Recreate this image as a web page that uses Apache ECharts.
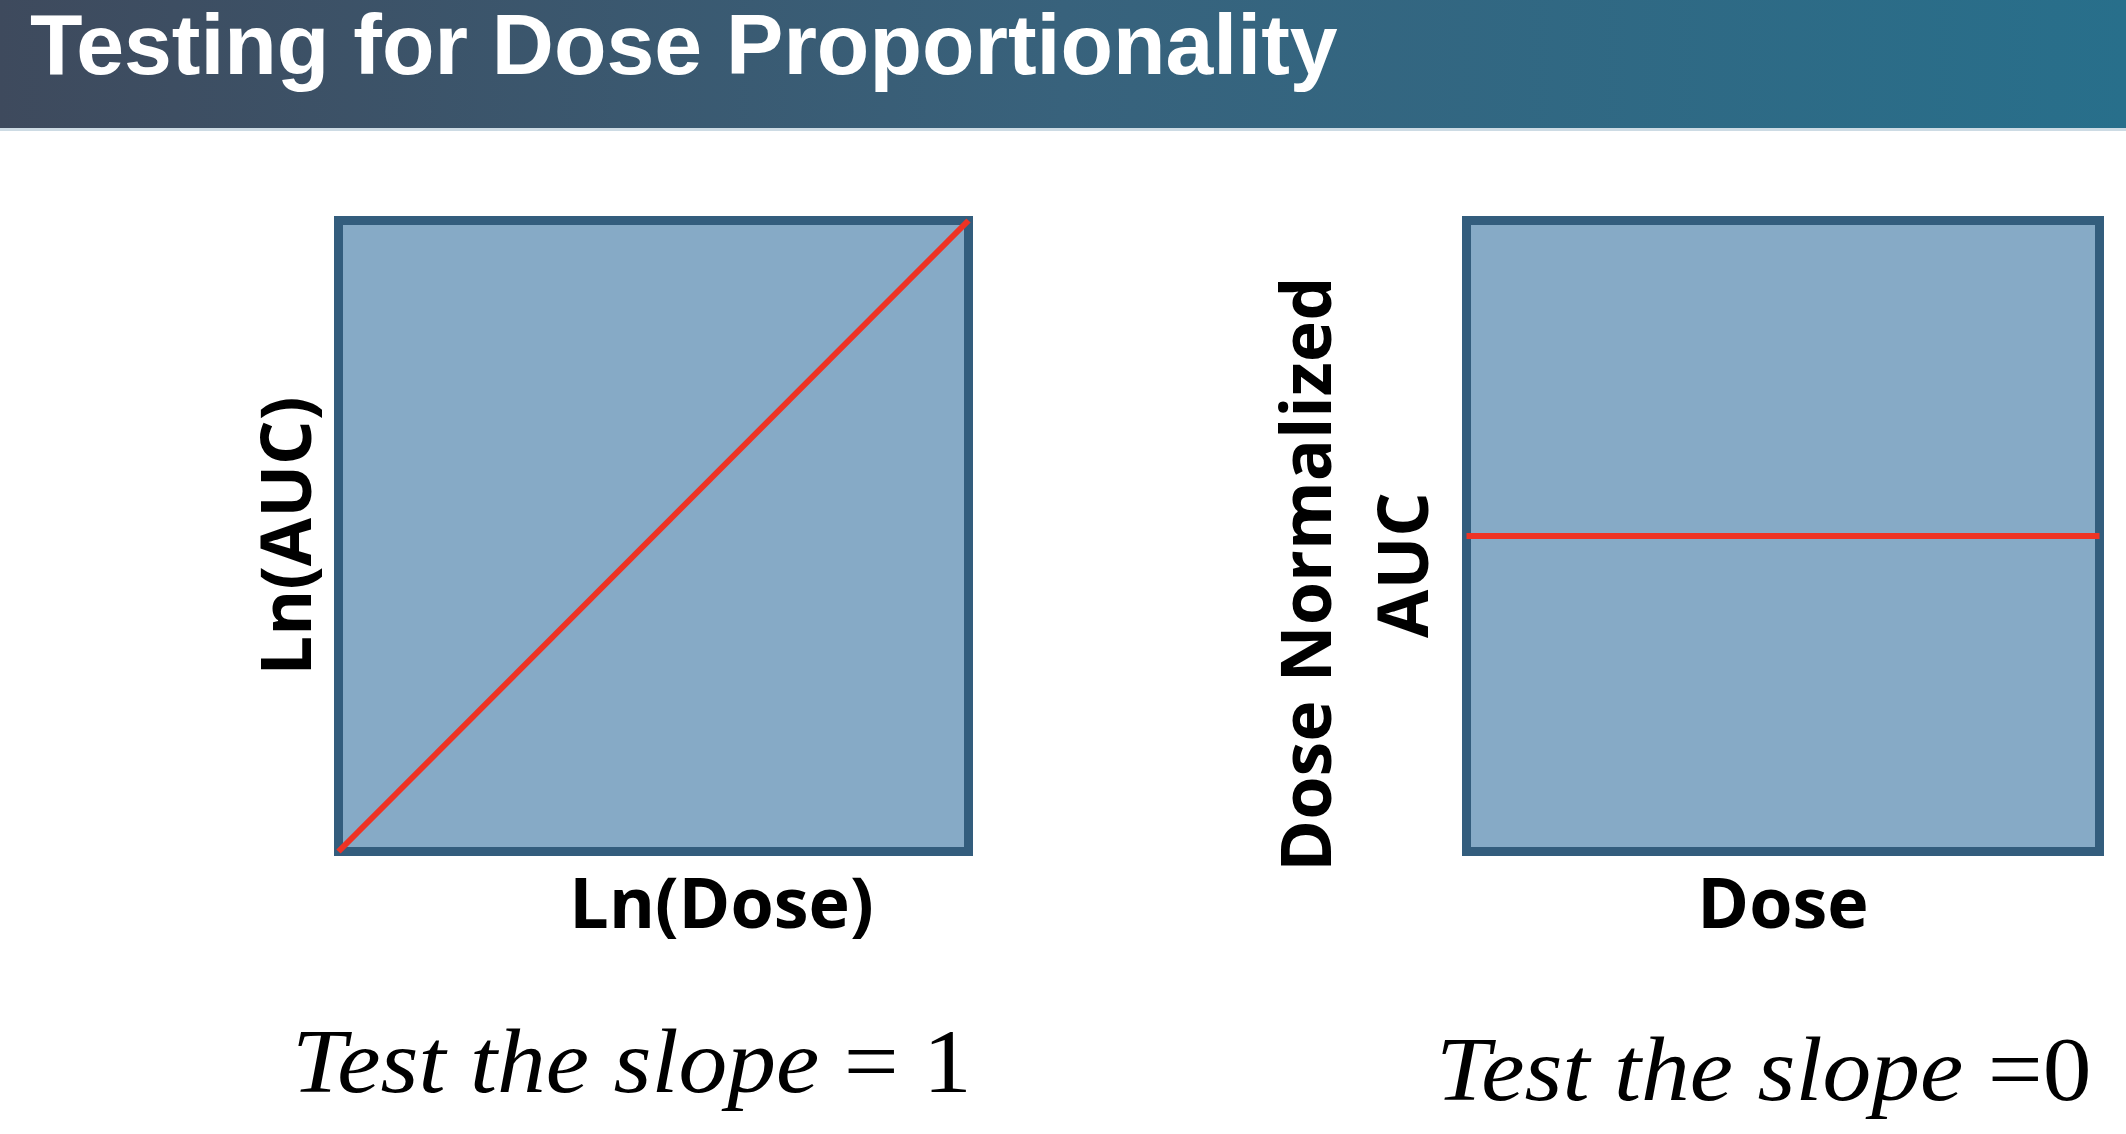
<!DOCTYPE html>
<html><head><meta charset="utf-8">
<script src="https://cdn.jsdelivr.net/npm/echarts@6/dist/echarts.min.js"></script>
<style>html,body{margin:0;padding:0;background:#fff}#c{width:2126px;height:1134px}</style>
</head><body><div id="c"></div>
<script>
const titleText = 'Testing for Dose Proportionality';
const leftXName = 'Ln(Dose)';
const leftYName = 'Ln(AUC)';
const rightXName = 'Dose';
const rightYName = 'Dose Normalized \nAUC';
const lnDose = [0, 1];
const lnAUC = [0, 1];
const dose = [0, 1];
const doseNormAUC = [0.5, 0.5];
const leftCaptionItalic = 'Test the slope ';
const leftCaptionUpright = '= 1';
const rightCaptionItalic = 'Test the slope ';
const rightCaptionUpright = '=0';

const chart = echarts.init(document.getElementById('c'));
const nameStyle = {fontFamily: 'Open Sans', fontWeight: 700, fontSize: 70, color: '#000', lineHeight: 72};
function axis(gridIndex, name, extra) {
  return Object.assign({
    type: 'value', gridIndex, min: 0, max: 1,
    axisLine: {show: false}, axisTick: {show: false}, axisLabel: {show: false}, splitLine: {show: false},
    name, nameLocation: 'middle', nameTextStyle: Object.assign({}, nameStyle)
  }, extra || {});
}
const gridStyle = {show: true, backgroundColor: '#86aac6', borderColor: '#335d7d', borderWidth: 9, containLabel: false};
const captionRich = {
  i: {fontFamily: 'Liberation Serif', fontStyle: 'italic', fontSize: 92, lineHeight: 92, color: '#000'},
  n: {fontFamily: 'Liberation Serif', fontStyle: 'normal', fontSize: 92, lineHeight: 92, color: '#000'}
};
const xl = axis(0, leftXName, {nameGap: 21});
xl.nameTextStyle.padding = [0, 0, 0, 136];
chart.setOption({
  backgroundColor: '#ffffff',
  animation: false,
  title: {
    text: titleText, left: 30, top: 7, padding: 0,
    textStyle: {color: '#ffffff', fontFamily: 'Liberation Sans', fontWeight: 'bold', fontSize: 86, lineHeight: 86}
  },
  grid: [
    Object.assign({left: 338.5, top: 220.5, width: 630, height: 631}, gridStyle),
    Object.assign({left: 1466.5, top: 220.5, width: 633, height: 631}, gridStyle)
  ],
  xAxis: [
    xl,
    axis(1, rightXName, {nameGap: 21})
  ],
  yAxis: [
    axis(0, leftYName, {nameGap: 11}),
    axis(1, rightYName, {nameGap: 10, nameTextStyle: Object.assign({}, nameStyle, {lineHeight: 97, padding: [0, 58, 0, 0]})})
  ],
  series: [
    {type: 'line', xAxisIndex: 0, yAxisIndex: 0, data: lnDose.map((x, i) => [x, lnAUC[i]]),
      symbol: 'none', clip: false, lineStyle: {color: '#ee3324', width: 6}},
    {type: 'line', xAxisIndex: 1, yAxisIndex: 1, data: dose.map((x, i) => [x, doseNormAUC[i]]),
      symbol: 'none', clip: false, lineStyle: {color: '#ee3324', width: 6}}
  ],
  graphic: [
    {type: 'rect', z: -1, silent: true, shape: {x: 0, y: 0, width: 2126, height: 128},
      style: {fill: new echarts.graphic.LinearGradient(0, 0, 1, 0, [
        {offset: 0, color: '#3e4a5d'}, {offset: 0.5, color: '#38627c'}, {offset: 1, color: '#286f8b'}])}},
    {type: 'rect', z: -1, silent: true, shape: {x: 0, y: 128, width: 2126, height: 3}, style: {fill: '#cddbe4'}},
    {type: 'text', x: 292, y: 1068, scaleX: 1.06, silent: true,
      style: {text: '{i|' + leftCaptionItalic + '}{n|' + leftCaptionUpright + '}', rich: captionRich, verticalAlign: 'middle', align: 'left'}},
    {type: 'text', x: 1436, y: 1076, scaleX: 1.06, silent: true,
      style: {text: '{i|' + rightCaptionItalic + '}{n|' + rightCaptionUpright + '}', rich: captionRich, verticalAlign: 'middle', align: 'left'}}
  ]
});
</script>
</body></html>
